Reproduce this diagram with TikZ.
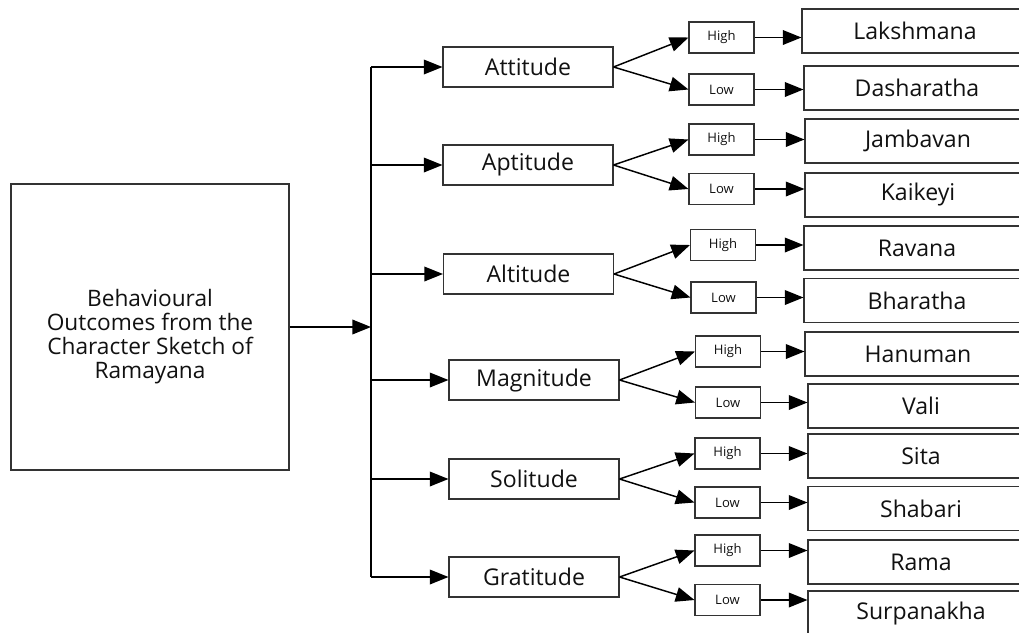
\documentclass[tikz,border=0pt]{standalone}
\usepackage{fontspec}
\setmainfont{Open Sans}
\usetikzlibrary{arrows.meta}
\definecolor{ink}{HTML}{111111}
\definecolor{edge}{HTML}{333333}
\tikzset{
  box/.style={draw=edge, line width=0.8pt, rectangle, inner sep=0pt, text=ink},
  mainbox/.style={box, minimum width=208.5pt, minimum height=214.5pt},
  maintext/.style={align=center, inner sep=0pt, text=ink, font=\fontsize{17pt}{18pt}\selectfont},
  midbox/.style={box, minimum width=127.5pt, minimum height=30pt, font=\fontsize{17.3pt}{18pt}\selectfont},
  hlbox/.style={box, minimum width=48.75pt, minimum height=23.25pt, font=\fontsize{9.8pt}{10pt}\selectfont},
  namebox/.style={box, minimum width=169.5pt, minimum height=33pt, font=\fontsize{17.3pt}{18pt}\selectfont},
  arr/.style={draw=black, line width=1.1pt, -{Triangle[length=14pt,width=11pt]}},
  ln/.style={draw=black, line width=1.1pt}
}
\begin{document}
\begin{tikzpicture}[x=0.75pt,y=-0.75pt]
\useasboundingbox (0,0) rectangle (1019,632);
\clip (0,0) rectangle (1019,632);
\fill[white] (0,0) rectangle (1019,632);
% main box
\node[mainbox] (main) at (150,327) {};
\node[maintext] (maintxt) at (150,337) {Behavioural\\Outcomes from the\\Character Sketch of\\Ramayana};
% trunk
\coordinate (ttop) at (371,67);
\coordinate (tbot) at (371,577);
\draw[ln] (ttop) -- (tbot);
\draw[arr] (main.east) -- (main.east -| ttop);
% middle boxes
\node[midbox] (att) at (528,67) {Attitude};
\node[midbox] (apt) at (528,165) {Aptitude};
\node[midbox] (alt) at (528.5,274) {Altitude};
\node[midbox] (mag) at (534,380) {Magnitude};
\node[midbox] (sol) at (534,479) {Solitude};
\node[midbox] (gra) at (534,577) {Gratitude};
\foreach \m in {att,apt,alt,mag,sol,gra}{
  \draw[arr] (\m.west -| ttop) -- (\m.west);
}
% high / low boxes
\node[hlbox] (hA)  at (721.5,37.5) {High};
\node[hlbox] (lA)  at (721.5,89.5) {Low};
\node[hlbox] (hAp) at (721.5,139.5) {High};
\node[hlbox] (lAp) at (721.5,189) {Low};
\node[hlbox] (hAl) at (723,245) {High};
\node[hlbox] (lAl) at (723.5,297.5) {Low};
\node[hlbox] (hM)  at (728,351.5) {High};
\node[hlbox] (lM)  at (728,402.5) {Low};
\node[hlbox] (hS)  at (727.5,453.5) {High};
\node[hlbox] (lS)  at (727.5,502.5) {Low};
\node[hlbox] (hG)  at (727.5,550.5) {High};
\node[hlbox] (lG)  at (727.5,600) {Low};
\foreach \m/\h/\l in {att/hA/lA, apt/hAp/lAp, alt/hAl/lAl, mag/hM/lM, sol/hS/lS, gra/hG/lG}{
  \draw[arr] (\m.east) -- (\h.west);
  \draw[arr] (\m.east) -- (\l.west);
}
% name boxes
\node[namebox] (n1)  at (915,31) {Lakshmana};
\node[namebox] (n2)  at (917,88) {Dasharatha};
\node[namebox] (n3)  at (918,141) {Jambavan};
\node[namebox] (n4)  at (918,195) {Kaikeyi};
\node[namebox] (n5)  at (917,248) {Ravana};
\node[namebox] (n6)  at (917,300.5) {Bharatha};
\node[namebox] (n7)  at (918,354) {Hanuman};
\node[namebox] (n8)  at (921,406) {Vali};
\node[namebox] (n9)  at (921,456) {Sita};
\node[namebox] (n10) at (921,508.5) {Shabari};
\node[namebox] (n11) at (921,562) {Rama};
\node[namebox] (n12) at (921,613) {Surpanakha};
\foreach \s/\t in {hA/n1, lA/n2, hAp/n3, lAp/n4, hAl/n5, lAl/n6, hM/n7, lM/n8, hS/n9, lS/n10, hG/n11, lG/n12}{
  \draw[arr] (\s.east) -- (\s.east -| \t.west);
}
\end{tikzpicture}
\end{document}
